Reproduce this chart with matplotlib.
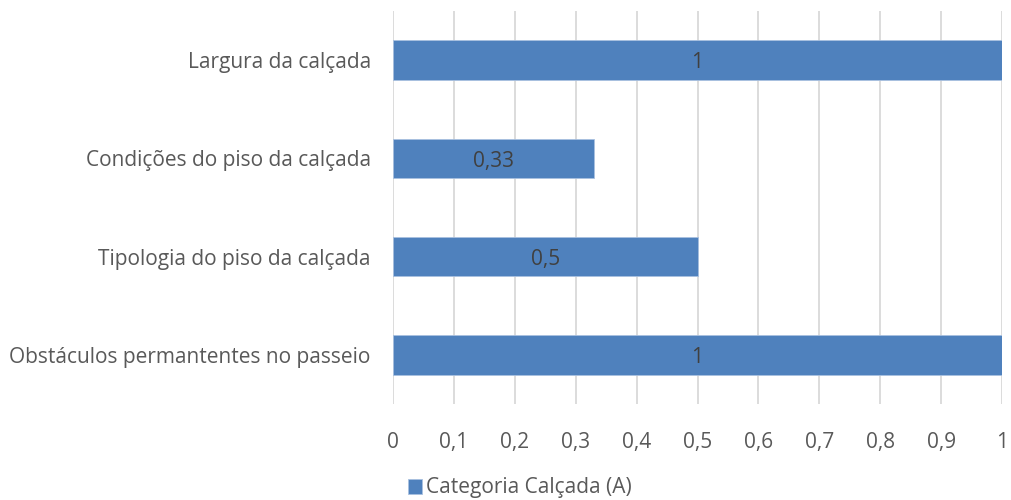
import matplotlib.pyplot as plt
import matplotlib.transforms as mtransforms
from matplotlib.ticker import FuncFormatter

# ── Data ────────────────────────────────────────────────────────────────────
categories = [
    "Obstáculos permantentes no passeio",
    "Tipologia do piso da calçada",
    "Condições do piso da calçada",
    "Largura da calçada",
]
values = [1, 0.5, 0.33, 1]
value_labels = ["1", "0,5", "0,33", "1"]
series_name = "Categoria Calçada (A)"
x_ticks = [0, 0.1, 0.2, 0.3, 0.4, 0.5, 0.6, 0.7, 0.8, 0.9, 1]

BAR_COLOR = "#4f81bd"
TEXT_COLOR = "#595959"
LABEL_COLOR = "#404040"
GRID_COLOR = "#d9d9d9"
FS = 15

plt.rcParams["font.family"] = ["Open Sans", "DejaVu Sans"]

fig = plt.figure(figsize=(10.11, 5.0), dpi=100)
ax = fig.add_axes([393 / 1011, 1 - 404 / 500, (1002 - 393) / 1011, 393 / 500])

y = range(len(categories))
bars = ax.barh(y, values, height=0.4, color=BAR_COLOR, edgecolor="#a9c1e0",
               linewidth=0.6, label=series_name, zorder=3)

# nudge value labels a bit down to sit like the original
shift = mtransforms.offset_copy(ax.transData, fig=fig, x=0, y=-2, units="points")
for bar, lab in zip(bars, value_labels):
    ax.text(bar.get_width() / 2, bar.get_y() + bar.get_height() / 2, lab,
            ha="center", va="center", fontsize=FS, color=LABEL_COLOR,
            zorder=4, transform=shift)

ax.set_xlim(0, 1)
ax.set_ylim(-0.5, len(categories) - 0.5)
ax.set_yticks(list(y))
ax.set_yticklabels(categories, fontsize=FS, color=TEXT_COLOR)
ax.set_xticks(x_ticks)
ax.xaxis.set_major_formatter(FuncFormatter(lambda v, _: f"{v:g}".replace(".", ",")))
ax.tick_params(axis="x", labelsize=FS, labelcolor=TEXT_COLOR, length=0, pad=20)
ax.tick_params(axis="y", length=0, pad=16)

ax.grid(axis="x", color=GRID_COLOR, linewidth=1.3, zorder=0)
for s in ax.spines.values():
    s.set_visible(False)

fig.legend(handles=[bars], labels=[series_name], loc="center",
           bbox_to_anchor=(520 / 1011, 1 - 488 / 500), frameon=False,
           fontsize=FS, labelcolor=TEXT_COLOR, handlelength=0.7,
           handleheight=0.7, handletextpad=0.2)

fig.savefig("out.png", dpi=100)
